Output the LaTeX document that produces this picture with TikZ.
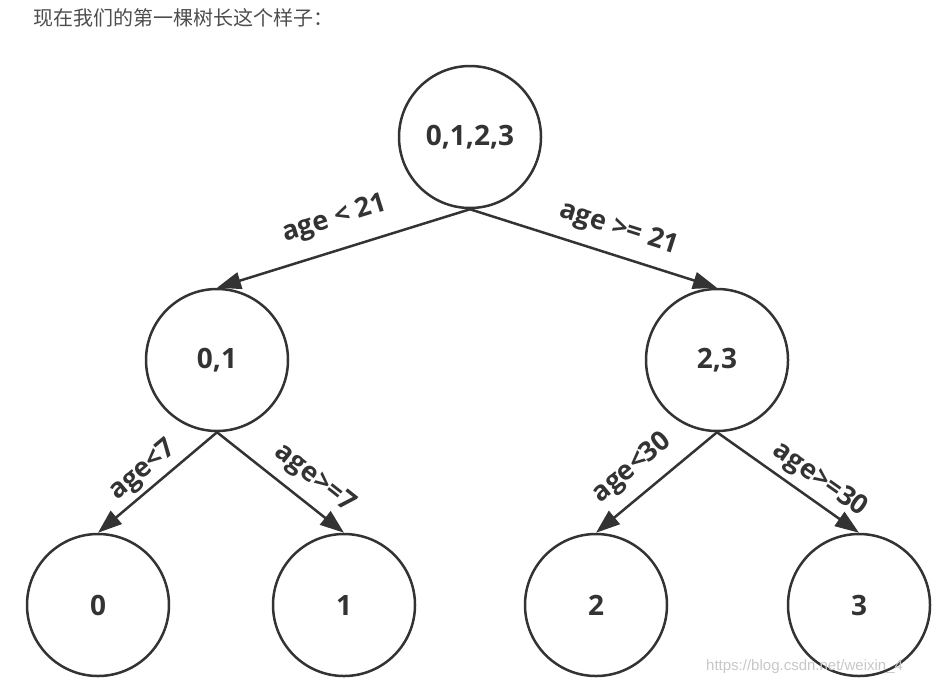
\documentclass[tikz,border=0pt]{standalone}
\usepackage{fontspec}
\setmainfont{Open Sans}
\newfontfamily\cjk{Noto Sans CJK SC}
\newfontfamily\wmfont{Liberation Sans}
\usetikzlibrary{arrows.meta}
\definecolor{ink}{HTML}{333333}
\definecolor{topink}{HTML}{4D4D4D}
\tikzset{
  tnode/.style={circle, draw=ink, line width=2.5pt, minimum size=142pt, inner sep=0pt,
    font=\fontsize{28}{28}\selectfont\bfseries, text=ink},
  tedge/.style={draw=ink, line width=2.5pt, -{Triangle[length=24pt,width=17pt]}},
  elabel/.style={sloped, inner sep=0pt, text height=0.75em, text depth=0.25em,
    font=\fontsize{27}{27}\selectfont\bfseries, text=ink}
}
\begin{document}
\begin{tikzpicture}[x=1pt,y=1pt]
\useasboundingbox (0,0) rectangle (941,-686);
\node[anchor=base west, font=\cjk\fontsize{20}{20}\selectfont, text=topink, inner sep=0pt] (title) at (33,-25) {现在我们的第一棵树长这个样子：};
\node[tnode] (r) at (470,-137) {0,1,2,3};
\node[tnode] (l) at (217,-360) {0,1};
\node[tnode] (m) at (717,-360) {2,3};
\node[tnode] (a) at (98,-605) {0};
\node[tnode] (b) at (344,-605) {1};
\node[tnode] (c) at (596,-605) {2};
\node[tnode] (d) at (859,-605) {3};
\draw[tedge] (r.south) -- node[elabel, pos=0.5, above=20pt] (lab1) {age < 21} (l.north);
\draw[tedge] (r.south) -- node[elabel, pos=0.57, above=16pt] (lab2) {age >= 21} (m.north);
\draw[tedge] (l.south) -- node[elabel, pos=0.52, above=8pt] (lab3) {age<7} (a.north);
\draw[tedge] (l.south) -- node[elabel, pos=0.65, above=14pt] (lab4) {age>=7} (b.north);
\draw[tedge] (m.south) -- node[elabel, pos=0.56, above=16pt] (lab5) {age<30} (c.north);
\draw[tedge] (m.south) -- node[elabel, pos=0.64, above=10pt] (lab6) {age>=30} (d.north);
\node[anchor=base west, font=\wmfont\fontsize{15}{15}\selectfont, text=black!22, inner sep=0pt] (wm) at (706,-670) {https://blog.csdn.net/weixin\_4};
\end{tikzpicture}
\end{document}
